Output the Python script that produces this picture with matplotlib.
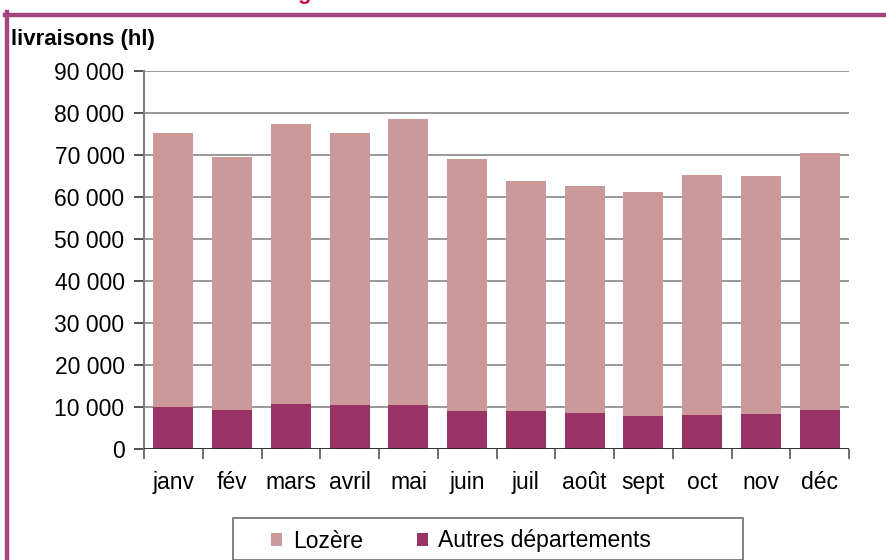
import matplotlib
matplotlib.use("Agg")
import matplotlib.pyplot as plt
from matplotlib.lines import Line2D
from matplotlib.patches import Rectangle, Patch
from matplotlib.ticker import FuncFormatter, MultipleLocator, FixedLocator

months = ['janv', 'fév', 'mars', 'avril', 'mai', 'juin', 'juil', 'août', 'sept', 'oct', 'nov', 'déc']
lozere = [65300, 60300, 66700, 64800, 68100, 60100, 54900, 54200, 53500, 57200, 56700, 61200]
autres = [10000, 9300, 10700, 10500, 10500, 9000, 9000, 8500, 7800, 8100, 8400, 9300]
series_names = ['Lozère', 'Autres départements']
y_label = 'livraisons (hl)'

C_LOZ = '#CB9999'
C_AUT = '#993366'
FRAME = '#A3457F'
GRID = '#999999'
FONT = 'Liberation Sans'
FS = 16.5

W, H = 886, 560
fig = plt.figure(figsize=(W / 100, H / 100), dpi=100)
fig.patch.set_facecolor('white')

def fx(px):
    return px / W

def fy(py):
    return 1 - py / H

ax = fig.add_axes([fx(144), fy(449), fx(849) - fx(144), fy(71) - fy(449)])
x = list(range(len(months)))
ax.bar(x, autres, width=0.68, color=C_AUT, zorder=3)
ax.bar(x, lozere, width=0.68, bottom=autres, color=C_LOZ, zorder=3)

ax.set_xlim(-0.5, len(months) - 0.5)
ax.set_ylim(0, 90000)
ax.yaxis.set_major_locator(MultipleLocator(10000))
ax.yaxis.set_major_formatter(FuncFormatter(lambda v, p: f"{v:,.0f}".replace(',', ' ')))
ax.grid(axis='y', color=GRID, linewidth=1.4, zorder=0)
ax.set_axisbelow(True)

for s in ['top', 'right', 'bottom']:
    ax.spines[s].set_visible(False)
ax.spines['left'].set_color('#808080')
ax.spines['left'].set_linewidth(1.5)
ax.axhline(0, color='#222222', linewidth=1.2, zorder=4)

ax.set_xticks(x)
ax.set_xticklabels(months, fontsize=FS, family=FONT)
ax.xaxis.set_minor_locator(FixedLocator([i - 0.5 for i in range(len(months) + 1)]))
ax.tick_params(axis='x', which='major', length=0, pad=16)
ax.tick_params(axis='x', which='minor', length=7, width=1.2, color='#555555')
ax.tick_params(axis='y', length=7, width=1.2, color='#333333', pad=7, labelsize=FS)
for lab in ax.get_yticklabels():
    lab.set_family(FONT)

fig.text(fx(11), fy(39), y_label, fontsize=16, fontweight='bold', family=FONT, va='center', ha='left')

# partial title (cut off at top of the image, as in the reference)
fig.text(fx(297), fy(-1), 'g', fontsize=16, fontweight='bold', color='#C8103F', family=FONT, va='baseline', ha='left')

# frame lines
fig.add_artist(Line2D([fx(7), fx(7)], [fy(12), 0], color=FRAME, linewidth=3.2, transform=fig.transFigure))
fig.add_artist(Line2D([fx(5), 1], [fy(14.5), fy(14.5)], color=FRAME, linewidth=3.2, transform=fig.transFigure))

# legend box
fig.add_artist(Rectangle((fx(233), 0), fx(743) - fx(233), fy(518), transform=fig.transFigure,
                         facecolor='white', edgecolor='#777777', linewidth=1.3))
handles = [Patch(facecolor=C_LOZ, edgecolor='none'), Patch(facecolor=C_AUT, edgecolor='none')]
leg = fig.legend(handles, series_names, loc='center left', bbox_to_anchor=(fx(271), fy(541)),
                 ncol=2, frameon=False, prop={'family': FONT, 'size': FS},
                 handlelength=0.5, handleheight=0.5, handletextpad=0.45, columnspacing=2.35,
                 borderpad=0, borderaxespad=0)

fig.savefig('out.png', dpi=100)
